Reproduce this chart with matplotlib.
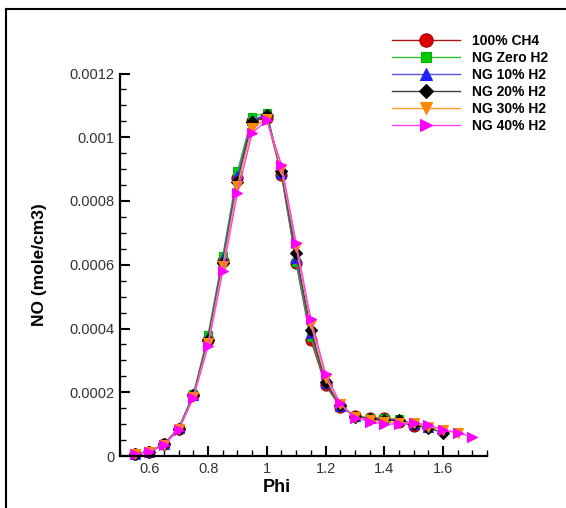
import numpy as np
import matplotlib
matplotlib.use("Agg")
import matplotlib.pyplot as plt
from matplotlib.ticker import MultipleLocator, FixedLocator, FuncFormatter
from matplotlib.lines import Line2D

plt.rcParams['font.family'] = ['Liberation Sans', 'DejaVu Sans']

phi = [0.55, 0.6, 0.65, 0.7, 0.75, 0.8, 0.85, 0.9, 0.95, 1.0, 1.05, 1.1,
       1.15, 1.2, 1.25, 1.3, 1.35, 1.4, 1.45, 1.5, 1.55, 1.6, 1.65, 1.7]

ch4_100 = [0.000005, 0.000013, 0.000037, 0.000085, 0.00019, 0.000364, 0.000612,
           0.000872, 0.00105, 0.00106, 0.000882, 0.000605, 0.000364, 0.000222,
           0.000155, 0.000125, 0.000118, 0.00012, 0.000108, 0.000094]
ng_zero = [0.000005, 0.000013, 0.000038, 0.000088, 0.000193, 0.00038, 0.000626,
           0.000893, 0.001065, 0.001076, 0.000885, 0.00061, 0.000374, 0.000228,
           0.000158, 0.000125, 0.00012, 0.000118, 0.000115, 0.000098, 0.000088]
ng_10 = [0.000005, 0.000013, 0.000038, 0.000087, 0.000192, 0.000372, 0.00062,
         0.000878, 0.001055, 0.00107, 0.000888, 0.00062, 0.000385, 0.00023,
         0.000158, 0.000124, 0.000118, 0.000117, 0.000113, 0.0001, 0.00009]
ng_20 = [0.000005, 0.000013, 0.000037, 0.000086, 0.00019, 0.000365, 0.000607,
         0.00086, 0.001047, 0.00107, 0.000893, 0.000636, 0.000396, 0.000232,
         0.00016, 0.000123, 0.000115, 0.000113, 0.000112, 0.0001, 0.000088, 0.000073]
ng_30 = [0.000005, 0.000013, 0.000036, 0.000084, 0.000186, 0.000355, 0.000595,
         0.000848, 0.00103, 0.001058, 0.0009, 0.000657, 0.000415, 0.000245,
         0.000162, 0.000122, 0.000112, 0.000108, 0.000105, 0.000102, 0.000092,
         0.000082, 0.000072]
ng_40 = [0.000005, 0.000013, 0.000035, 0.000082, 0.000182, 0.000345, 0.000579,
         0.000825, 0.001013, 0.001053, 0.000914, 0.000668, 0.00043, 0.000258,
         0.000165, 0.00012, 0.000108, 0.0001, 0.0001, 0.000104, 0.000097,
         0.000082, 0.000073, 0.00006]

labels = ['100% CH4', 'NG Zero H2', 'NG 10% H2', 'NG 20% H2', 'NG 30% H2', 'NG 40% H2']
series = [ch4_100, ng_zero, ng_10, ng_20, ng_30, ng_40]

styles = [
    dict(color='#b01818', marker='o', ms=8, mfc='#dd0000', mec='#a00000'),
    dict(color='#30c030', marker='s', ms=6, mfc='#00cc00', mec='#00b000'),
    dict(color='#5555dd', marker='^', ms=7, mfc='#2222ff', mec='#2222ff'),
    dict(color='#404040', marker='D', ms=6, mfc='#000000', mec='#000000'),
    dict(color='#ff9a30', marker='v', ms=7, mfc='#ff8800', mec='#ff8800'),
    dict(color='#ff40ff', marker='>', ms=7.5, mfc='#ff00ff', mec='#ff00ff'),
]

fig = plt.figure(figsize=(5.66, 5.08), dpi=100)
ax = fig.add_axes([120/566, 1-456/508, (487-120)/566, (456-73.5)/508])

for lab, vals, st in zip(labels, series, styles):
    ax.plot(phi[:len(vals)], vals, color=st['color'], lw=1.0, marker=st['marker'],
            ms=st['ms'], mfc=st['mfc'], mec=st['mec'], mew=0.8, label=lab, clip_on=False)

ax.set_xlim(0.5, 1.75)
ax.set_ylim(0, 0.0012)

ax.xaxis.set_major_locator(FixedLocator([0.6, 0.8, 1.0, 1.2, 1.4, 1.6]))
ax.xaxis.set_minor_locator(MultipleLocator(0.05))
ax.yaxis.set_major_locator(MultipleLocator(0.0002))
ax.yaxis.set_minor_locator(MultipleLocator(0.00005))
fmt = FuncFormatter(lambda v, p: ('%.4f' % v).rstrip('0').rstrip('.') if abs(v) > 1e-12 else '0')
ax.xaxis.set_major_formatter(fmt)
ax.yaxis.set_major_formatter(fmt)

for s in ['top', 'right']:
    ax.spines[s].set_visible(False)
for s in ['left', 'bottom']:
    ax.spines[s].set_linewidth(1.6)

ax.tick_params(which='major', direction='in', length=7, width=1.5, labelsize=10.5,
               labelcolor='#333333', pad=4)
ax.tick_params(which='minor', direction='in', length=4, width=1.0)

ax.set_xlabel('Phi', fontsize=13, fontweight='bold')
ax.set_ylabel('NO (mole/cm3)', fontsize=12.5, fontweight='bold')
ax.xaxis.set_label_coords((277-120)/367, -31/382.5)
ax.xaxis.label.set_va('center')
ax.yaxis.set_label_coords(-80/367, 0.5)
ax.yaxis.label.set_va('center')

leg = fig.legend(loc='upper left', bbox_to_anchor=(392/566, 1-34/508), frameon=False,
                 prop=dict(weight='bold', size=10), handlelength=4.9,
                 handletextpad=0.85, labelspacing=0.22, borderpad=0, borderaxespad=0,
                 markerscale=1.2)

# figure border (top and left)
fig.add_artist(Line2D([6/566, 6/566], [0, 1-9/508], transform=fig.transFigure,
                      color='black', lw=1.5))
fig.add_artist(Line2D([6/566, 1], [1-9/508, 1-9/508], transform=fig.transFigure,
                      color='black', lw=1.5))

fig.savefig('out.png', dpi=100)
